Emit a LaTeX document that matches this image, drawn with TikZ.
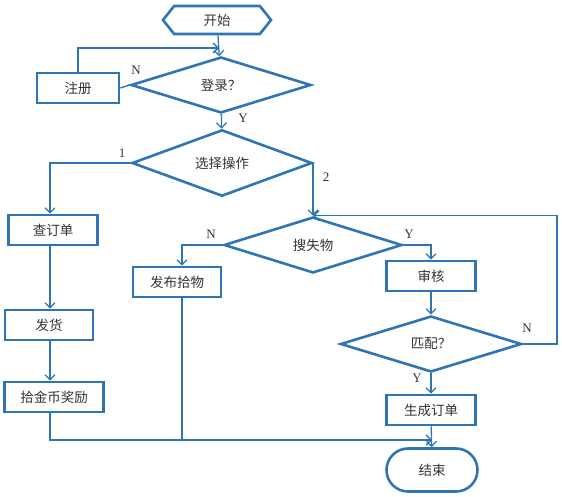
\documentclass[tikz,border=0pt]{standalone}
\usepackage{fontspec}
\setmainfont{Liberation Serif}
\newfontfamily\cjk{Noto Sans CJK SC}
\definecolor{bleu}{RGB}{46,117,182}
\usetikzlibrary{arrows.meta,shapes.geometric,shapes.misc,shapes.symbols}

\begin{document}
\begin{tikzpicture}[x=1pt, y=-1pt, >={Straight Barb[length=5pt,width=10pt]}] % 1pt = 1px
  \tikzstyle{every node}=[inner sep=0pt, text=black!80]
  \tikzstyle{boite}=[rectangle, draw=bleu, line width=2.6pt, minimum height=30pt, font=\cjk\fontsize{13.5}{15}\selectfont]
  \tikzstyle{choix}=[diamond, draw=bleu, line width=2.6pt, minimum width=180pt, minimum height=56pt, font=\cjk\fontsize{13.5}{15}\selectfont]
  \tikzstyle{fleche}=[->, draw=bleu, line width=1.3pt]
  \tikzstyle{lettre}=[font=\fontsize{13}{15}\selectfont]

  \useasboundingbox (0,0) rectangle (562,497);

  \node[signal, signal to=west and east, signal pointer angle=103, draw=bleu, line width=2.6pt,
        minimum width=108pt, minimum height=28pt, font=\cjk\fontsize{13.5}{15}\selectfont] (debut) at (217,20) {开始};
  \node[choix] (login)   at (221,85)  {登录？};
  \node[boite, minimum width=82pt] (inscr) at (78,88) {注册};
  \node[choix] (select)  at (222,163) {选择操作};
  \node[boite, minimum width=89pt] (commande) at (53,230) {查订单};
  \node[boite, minimum width=88pt] (livrer)   at (49,325) {发货};
  \node[boite, minimum width=99pt] (prime)    at (54,397) {拾金币奖励};
  \node[boite, minimum width=88pt] (publier)  at (177,282) {发布拾物};
  \node[choix, minimum width=178pt] (cherche) at (313,245) {搜失物};
  \node[boite, minimum width=89pt] (audit)    at (431,276) {审核};
  \node[choix, minimum width=181pt] (match)   at (431,344) {匹配？};
  \node[boite, minimum width=89pt] (ordre)    at (431,410) {生成订单};
  \node[rounded rectangle, draw=bleu, line width=2.6pt, minimum width=91pt, minimum height=43pt,
        font=\cjk\fontsize{13.5}{15}\selectfont] (fin) at (432,470) {结束};

  \coordinate (j1) at (219,48);
  \coordinate (j2) at (432,440);
  \coordinate (gauche) at (50,0);
  \coordinate (milieu) at (182,0);
  \coordinate (droite) at (557,0);

  % labels
  \node[lettre] (nLogin)   at (136,70)  {N};
  \node[lettre] (yLogin)   at (243,118) {Y};
  \node[lettre] (un)       at (122,153) {1};
  \node[lettre] (deux)     at (326,177) {2};
  \node[lettre] (nCherche) at (211,234) {N};
  \node[lettre] (yCherche) at (409,234) {Y};
  \node[lettre] (nMatch)   at (527,328) {N};
  \node[lettre] (yMatch)   at (417,378) {Y};

  \path[fleche]
    (debut) edge (login)
    (login) edge (select)
    (audit) edge (match)
    (match) edge (ordre)
    (ordre) edge (fin);

  \draw[bleu, line width=1.3pt] (login.west) -- (inscr.east);
  \draw[fleche] (inscr.north) |- (j1);
  \draw[fleche] (select.west) -| (gauche |- commande.north);
  \draw[fleche] (select.east) -| (cherche.north);
  \draw[fleche] (gauche |- commande.south) -- (gauche |- livrer.north);
  \draw[fleche] (gauche |- livrer.south) -- (gauche |- prime.north);
  \draw[fleche] (cherche.west) -| (milieu |- publier.north);
  \draw[fleche] (cherche.east) -| (audit.north);
  \draw[fleche] (match.east) -| (droite |- cherche.north) -- (cherche.north);
  \draw[fleche] (gauche |- prime.south) |- (j2);
  \draw[bleu, line width=1.3pt] (milieu |- publier.south) -- (milieu |- j2);

\end{tikzpicture}
\end{document}
